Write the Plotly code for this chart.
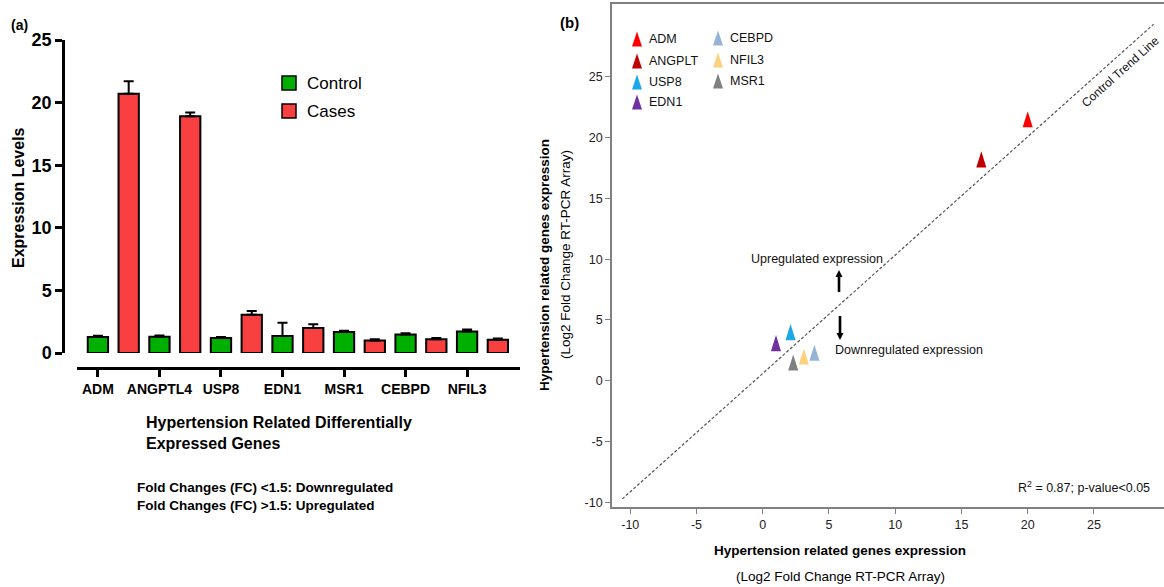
import plotly.graph_objects as go

W, H = 1164, 587
FONT = "Liberation Sans, Arial, sans-serif"

# ---------------- data: panel (a) ----------------
genes = ["ADM", "ANGPTL4", "USP8", "EDN1", "MSR1", "CEBPD", "NFIL3"]
control = [1.28, 1.30, 1.20, 1.36, 1.68, 1.48, 1.72]
control_err = [0.10, 0.10, 0.08, 1.05, 0.10, 0.10, 0.15]
cases = [20.7, 18.9, 3.05, 2.0, 1.0, 1.1, 1.05]
cases_err = [1.0, 0.3, 0.3, 0.3, 0.1, 0.1, 0.1]
left_yticks = [0, 5, 10, 15, 20, 25]
series_names = ["Control", "Cases"]
series_colors = ["#00b000", "#f94040"]

# ---------------- data: panel (b) ----------------
scatter_genes = ["ADM", "ANGPLT", "USP8", "EDN1", "CEBPD", "NFIL3", "MSR1"]
scatter_x = [20.0, 16.5, 2.1, 1.0, 3.9, 3.1, 2.3]
scatter_y = [21.5, 18.2, 4.0, 3.1, 2.3, 2.0, 1.5]
scatter_colors = ["#ff0000", "#c00000", "#1aa9e6", "#7030a0", "#95b3d7", "#fdd27e", "#808080"]
trend_x = [-10.6, 29.5]
trend_y = [-9.7, 29.3]
right_ticks = [-10, -5, 0, 5, 10, 15, 20, 25]
right_ticktext = ["-10", "-5", "0", "5", "10", "15", "20", "25"]


def px(x):
    return x / W


def py(y):
    return 1 - y / H


fig = go.Figure()

# ---------- panel (a): bars ----------
bw = 0.33
fig.add_trace(go.Bar(
    x=genes, y=control, name=series_names[0], width=bw, offset=-bw / 2,
    marker=dict(color=series_colors[0], line=dict(color="black", width=2)),
    error_y=dict(type="data", array=control_err, arrayminus=[0] * len(genes),
                 symmetric=False, color="black", thickness=2, width=5),
    xaxis="x", yaxis="y", showlegend=False))
fig.add_trace(go.Bar(
    x=genes, y=cases, name=series_names[1], width=bw, offset=0.5 - bw / 2,
    marker=dict(color=series_colors[1], line=dict(color="black", width=2)),
    error_y=dict(type="data", array=cases_err, arrayminus=[0] * len(genes),
                 symmetric=False, color="black", thickness=2, width=5),
    xaxis="x", yaxis="y", showlegend=False))

# ---------- panel (b): trend line + triangles ----------
fig.add_trace(go.Scatter(
    x=trend_x, y=trend_y, mode="lines", xaxis="x2", yaxis="y2",
    line=dict(color="#555555", width=1.2, dash="3px,2px"), showlegend=False,
    hoverinfo="skip"))

hw, hh = 0.38, 0.66  # triangle half width / half height in data units (marker size)
for g, x, y, c in zip(scatter_genes, scatter_x, scatter_y, scatter_colors):
    fig.add_trace(go.Scatter(
        x=[x - hw, x + hw, x, x - hw], y=[y - hh, y - hh, y + hh, y - hh],
        mode="lines", fill="toself", fillcolor=c, line=dict(width=0, color=c),
        xaxis="x2", yaxis="y2", name=g, showlegend=False, hoverinfo="name"))

shapes = []
annotations = []

# left legend (manual)
for i, (nm, col) in enumerate(zip(series_names, series_colors)):
    cy = 83 + i * 28
    shapes.append(dict(type="rect", xref="paper", yref="paper",
                       x0=px(282), x1=px(296), y0=py(cy + 7), y1=py(cy - 7),
                       fillcolor=col, line=dict(color="black", width=1.5)))
    annotations.append(dict(text=nm, xref="paper", yref="paper", x=px(305), y=py(cy),
                            xanchor="left", yanchor="middle", showarrow=False,
                            font=dict(family=FONT, size=17, color="black")))

# right legend (manual, two columns)
col_pos = [(637, [39, 61, 82, 102]), (718, [38, 60, 81])]
k = 0
for cx, rows in col_pos:
    for cy in rows:
        g, c = scatter_genes[k], scatter_colors[k]
        k += 1
        shapes.append(dict(type="path", xref="paper", yref="paper",
                           path=f"M {px(cx-5)},{py(cy+7.5)} L {px(cx+5)},{py(cy+7.5)} L {px(cx)},{py(cy-7.5)} Z",
                           fillcolor=c, line=dict(width=0)))
        annotations.append(dict(text=g, xref="paper", yref="paper", x=px(cx + 10), y=py(cy),
                                xanchor="left", yanchor="middle", showarrow=False,
                                font=dict(family=FONT, size=12.5, color="#111")))


def txt(t, x, y, size, xa="center", ya="middle", angle=0, color="black", align="left"):
    annotations.append(dict(text=t, xref="paper", yref="paper", x=px(x), y=py(y),
                            xanchor=xa, yanchor=ya, showarrow=False, textangle=angle,
                            align=align, font=dict(family=FONT, size=size, color=color)))


txt("<b>(a)</b>", 19, 25, 14)
txt("<b>(b)</b>", 569, 22, 15)
txt("<b>Expression Levels</b>", 18, 198, 16, angle=-90)
txt("<b>Hypertension Related Differentially<br>Expressed Genes</b>", 144, 433, 16, xa="left")
txt("<b>Fold Changes (FC) &lt;1.5: Downregulated<br>Fold Changes (FC) &gt;1.5: Upregulated</b>",
    135, 496, 13.5, xa="left")
txt("<b>Hypertension related genes expression</b>", 544, 265, 13.5, angle=-90)
txt("(Log2 Fold Change RT-PCR Array)", 565, 255, 13.5, angle=-90)
txt("<b>Hypertension related genes expression</b>", 840, 550, 13.5)
txt("(Log2 Fold Change RT-PCR Array)", 840, 576, 13.5)
txt("R<sup>2</sup> = 0.87; p-value&lt;0.05", 1152, 487, 12.5, xa="right", color="#111")
txt("Upregulated expression", 817, 259, 12.5, color="#111")
txt("Downregulated expression", 833, 350, 12.5, xa="left", color="#111")
txt("Control Trend Line", 1120, 72, 12, angle=-41.8, color="#111")


# arrows (line + small head)
def arrow(x, y_tail, y_head):
    d = 1 if y_head < y_tail else -1  # +1 pointing up
    shapes.append(dict(type="line", xref="paper", yref="paper",
                       x0=px(x), x1=px(x), y0=py(y_tail), y1=py(y_head + d * 6),
                       line=dict(color="black", width=2.6)))
    shapes.append(dict(type="path", xref="paper", yref="paper",
                       path=f"M {px(x-3.5)},{py(y_head + d * 7)} L {px(x+3.5)},{py(y_head + d * 7)} L {px(x)},{py(y_head)} Z",
                       fillcolor="black", line=dict(width=0)))


arrow(839, 292, 270)
arrow(840, 316, 340)

left_axis_font = dict(family=FONT, size=14, color="black", weight="bold")
right_axis_font = dict(family=FONT, size=12.5, color="#222")

fig.update_layout(
    template="none",
    width=W, height=H, autosize=False,
    margin=dict(l=0, r=0, t=0, b=0, pad=0, autoexpand=False),
    paper_bgcolor="white", plot_bgcolor="white", barmode="overlay",
    showlegend=False, shapes=shapes, annotations=annotations,
    font=dict(family=FONT),
    xaxis=dict(domain=[px(77), px(520)], anchor="free", position=py(368), automargin=False,
               type="category", range=[-0.34, 6.86], showline=True, linecolor="black",
               linewidth=2.5, ticks="outside", ticklen=7, tickwidth=2.5, tickcolor="black",
               tickfont=left_axis_font, showgrid=False, zeroline=False, fixedrange=True),
    yaxis=dict(domain=[py(353), py(40)], anchor="free", position=px(63), automargin=False,
               range=[0, 25], tickvals=left_yticks, showline=True, linecolor="black",
               linewidth=2.5, ticks="outside", ticklen=7, tickwidth=2.5, tickcolor="black",
               tickfont=dict(family=FONT, size=18, color="black", weight="bold"),
               showgrid=False, zeroline=False),
    xaxis2=dict(domain=[px(612), 1.0], anchor="y2", range=[-11.38, 30.29], automargin=False,
                tickvals=right_ticks, ticktext=right_ticktext, showline=True,
                linecolor="#808080", linewidth=1.6, mirror=True, ticks="outside",
                ticklen=5, tickwidth=1.3, tickcolor="#808080", tickfont=right_axis_font,
                showgrid=False, zeroline=False),
    yaxis2=dict(domain=[py(507), py(4)], anchor="x2", range=[-10.37, 30.97], automargin=False,
                tickvals=right_ticks, ticktext=right_ticktext, showline=True,
                linecolor="#808080", linewidth=1.6, ticks="outside", ticklen=5,
                tickwidth=1.3, tickcolor="#808080", tickfont=right_axis_font,
                showgrid=False, zeroline=False),
)

page_fix = (
    "document.body.style.margin='0';document.body.style.padding='0';"
    "document.documentElement.style.overflow='hidden';document.body.style.overflow='hidden';"
)

fig.write_html(
    "out.html",
    config={"responsive": False, "displayModeBar": False},
    post_script=page_fix,
)
